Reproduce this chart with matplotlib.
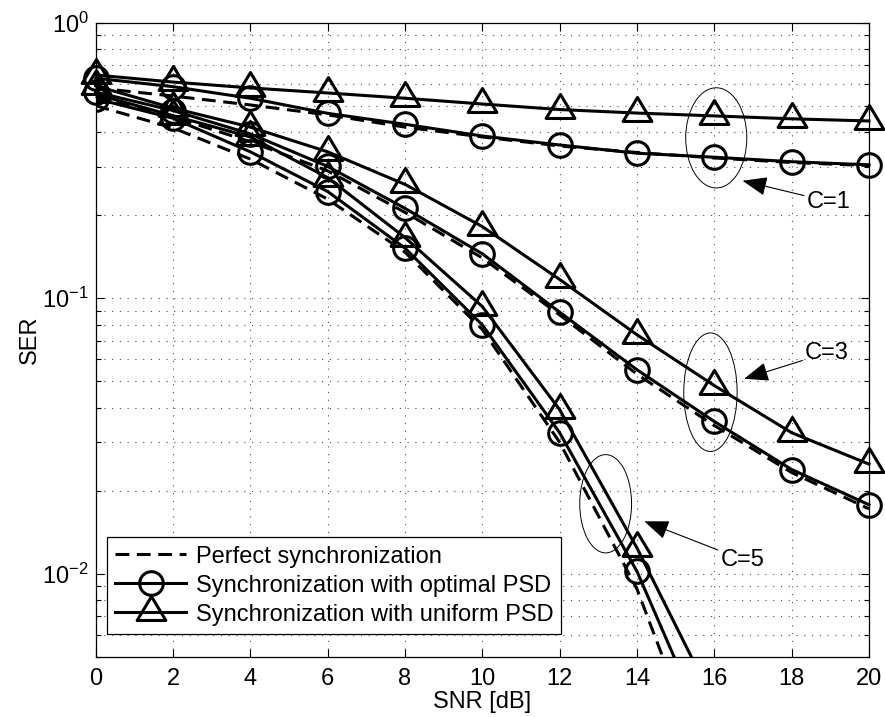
import numpy as np
import matplotlib
matplotlib.use("Agg")
from matplotlib import pyplot as plt
from matplotlib.path import Path
from matplotlib.patches import Ellipse

plt.rcParams['font.family'] = ['Liberation Sans', 'DejaVu Sans']
plt.rcParams['mathtext.fontset'] = 'custom'
plt.rcParams['mathtext.rm'] = 'Liberation Sans'
plt.rcParams['font.size'] = 17

snr = [0, 2, 4, 6, 8, 10, 12, 14, 16, 18, 20]
snr_c5 = [0, 2, 4, 6, 8, 10, 12, 14, 16]

# C=1
perfect_c1 = [0.58, 0.542, 0.503, 0.463, 0.418, 0.385, 0.357, 0.338, 0.323, 0.311, 0.303]
optimal_c1 = [0.629, 0.586, 0.532, 0.469, 0.428, 0.388, 0.360, 0.336, 0.325, 0.313, 0.305]
uniform_c1 = [0.646, 0.609, 0.580, 0.556, 0.532, 0.507, 0.484, 0.470, 0.459, 0.448, 0.440]
# C=3
perfect_c3 = [0.54, 0.455, 0.37, 0.29, 0.205, 0.140, 0.087, 0.053, 0.0345, 0.0233, 0.0172]
optimal_c3 = [0.56, 0.48, 0.395, 0.301, 0.212, 0.145, 0.089, 0.055, 0.0357, 0.0239, 0.0178]
uniform_c3 = [0.59, 0.49, 0.418, 0.340, 0.259, 0.182, 0.117, 0.0737, 0.0482, 0.0325, 0.0250]
# C=5
perfect_c5 = [0.50, 0.415, 0.320, 0.229, 0.147, 0.077, 0.030, 0.0088, 0.0016]
optimal_c5 = [0.53, 0.450, 0.340, 0.244, 0.152, 0.080, 0.0325, 0.0102, 0.0023]
uniform_c5 = [0.55, 0.46, 0.385, 0.274, 0.166, 0.0933, 0.0394, 0.0124, 0.0034]

legend_labels = ["Perfect synchronization",
                 "Synchronization with optimal PSD",
                 "Synchronization with uniform PSD"]

# annotation: label, ellipse centre (snr, ser), arrow tip, text position
notes = [
    ("C=1", (16.05, 0.382), (16.73, 0.267), (18.39, 0.2244)),
    ("C=3", (15.9, 0.0456), (16.77, 0.051), (18.35, 0.0634)),
    ("C=5", (13.19, 0.01795), (14.19, 0.0155), (16.16, 0.01126)),
]
ellipse_size = [(0.079, 0.158), (0.069, 0.187), (0.067, 0.155)]

tri = Path([(0, 1), (-0.9, -0.5), (0.9, -0.5), (0, 1)], closed=True)

fig = plt.figure(figsize=(8.85, 7.17), dpi=100)
ax = fig.add_axes([0.1081, 0.0841, 0.8738, 0.8842])

lw = 2.2
dash_kw = dict(color='black', lw=lw, linestyle=(0, (4.5, 2.5)))
circ_kw = dict(color='black', lw=lw, marker='o', ms=17, mew=2.2, mfc='none')
tri_kw = dict(color='black', lw=lw, marker=tri, ms=23, mew=2.2, mfc='none')

ax.plot(snr, perfect_c1, label=legend_labels[0], clip_on=False, **dash_kw)
ax.plot(snr, optimal_c1, label=legend_labels[1], clip_on=False, **circ_kw)
ax.plot(snr, uniform_c1, label=legend_labels[2], clip_on=False, **tri_kw)
ax.plot(snr, perfect_c3, clip_on=False, **dash_kw)
ax.plot(snr, optimal_c3, clip_on=False, **circ_kw)
ax.plot(snr, uniform_c3, clip_on=False, **tri_kw)
ax.plot(snr_c5, perfect_c5, **dash_kw)
ax.plot(snr_c5, optimal_c5, **circ_kw)
ax.plot(snr_c5, uniform_c5, **tri_kw)

ax.set_yscale('log')
ax.set_xlim(0, 20)
ax.set_ylim(0.005, 1)
ax.set_xticks(snr)
ax.set_xlabel("SNR [dB]", labelpad=1)
ax.set_ylabel("SER", labelpad=1)

grid_ls = (0, (1, 6))
ax.grid(True, which='major', axis='both', color='0.3', lw=0.8, linestyle=grid_ls)
ax.grid(True, which='minor', axis='y', color='0.3', lw=0.8, linestyle=grid_ls)
ax.tick_params(which='both', direction='in', top=True, right=True)
ax.tick_params(which='major', length=6, width=0.8, pad=8)
ax.tick_params(which='minor', length=3.5, width=0.8)
ax.tick_params(axis='y', which='major', pad=5)
for s in ax.spines.values():
    s.set_linewidth(0.9)

fig.canvas.draw()
to_axes = ax.transAxes.inverted()
for (label, centre, tip, txt), (w, h) in zip(notes, ellipse_size):
    cx, cy = to_axes.transform(ax.transData.transform(centre))
    ax.add_patch(Ellipse((cx, cy), w, h, transform=ax.transAxes,
                         fill=False, ec='black', lw=0.7, zorder=5))
    ax.annotate(label, xy=tip, xytext=txt, ha='left', va='center',
                arrowprops=dict(arrowstyle='-|>,head_length=0.9,head_width=0.35',
                                color='black', lw=0.8, shrinkA=0, shrinkB=0))

leg = ax.legend(loc='lower left', bbox_to_anchor=(0.0146, 0.0358), fontsize=17,
                handlelength=3.0, borderpad=0.35, labelspacing=0.3,
                handletextpad=0.4, borderaxespad=0, fancybox=False,
                framealpha=1, edgecolor='black')
leg.get_frame().set_linewidth(0.9)

fig.savefig("out.png", dpi=100)
